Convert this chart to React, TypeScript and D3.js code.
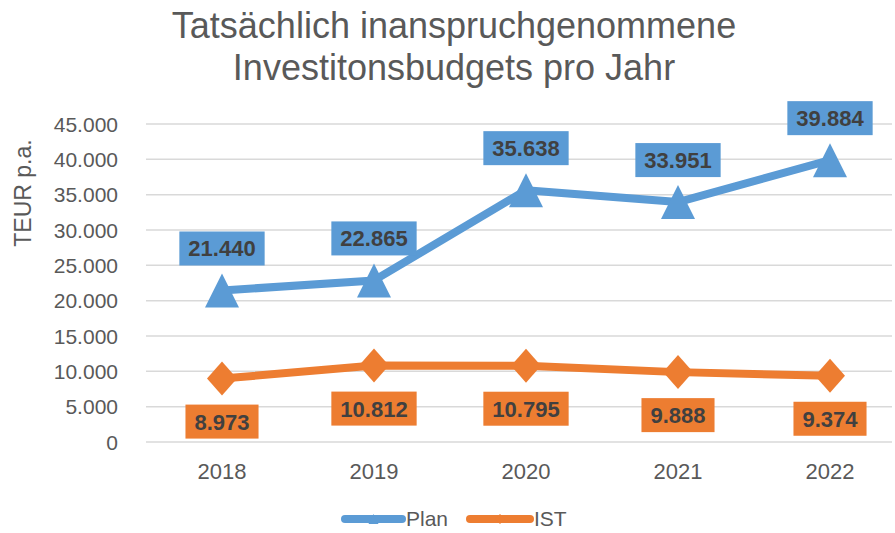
import React, { useEffect, useRef } from 'react';
import * as d3 from 'd3';

const years = ['2018', '2019', '2020', '2021', '2022'];
const planValues = [21440, 22865, 35638, 33951, 39884];
const istValues = [8973, 10812, 10795, 9888, 9374];
const yTicks = [0, 5000, 10000, 15000, 20000, 25000, 30000, 35000, 40000, 45000];
const titleLines = ['Tatsächlich inanspruchgenommene', 'Investitonsbudgets pro Jahr'];

const BLUE = '#5b9bd5';
const ORANGE = '#ed7d31';
const FONT = '"Liberation Sans", Arial, sans-serif';

const fmt = (v: number) => d3.format(',')(v).replace(/,/g, '.');

const App: React.FC = () => {
    const ref = useRef<SVGSVGElement | null>(null);

    useEffect(() => {
        if (!ref.current) return;
        const svg = d3.select(ref.current);
        svg.selectAll('*').remove();
        const width = 895;
        const height = 533;
        svg.attr('width', width).attr('height', height);

        const x = d3.scaleBand().domain(years).range([146, 906]);
        const cx = (d: string) => (x(d) as number) + x.bandwidth() / 2;
        const y = d3.scaleLinear().domain([0, 45000]).range([442, 124]);

        // title
        svg.append('g')
            .selectAll('text')
            .data(titleLines)
            .enter().append('text')
            .attr('x', 454)
            .attr('y', (_, i) => 38 + i * 42)
            .attr('text-anchor', 'middle')
            .attr('font-size', 36)
            .attr('fill', '#595959')
            .text(d => d);

        // grid
        svg.append('g')
            .selectAll('line')
            .data(yTicks)
            .enter().append('line')
            .attr('x1', 146)
            .attr('x2', 892)
            .attr('y1', d => y(d))
            .attr('y2', d => y(d))
            .attr('stroke', '#d9d9d9')
            .attr('stroke-width', 1.5);

        // y ticks
        svg.append('g')
            .selectAll('text')
            .data(yTicks)
            .enter().append('text')
            .attr('x', 118)
            .attr('y', d => y(d) + 7.5)
            .attr('text-anchor', 'end')
            .attr('font-size', 21)
            .attr('fill', '#595959')
            .text(d => fmt(d));

        svg.append('text')
            .attr('transform', 'translate(31,193) rotate(-90)')
            .attr('text-anchor', 'middle')
            .attr('font-size', 23)
            .attr('fill', '#595959')
            .text('TEUR p.a.');

        // x labels
        svg.append('g')
            .selectAll('text')
            .data(years)
            .enter().append('text')
            .attr('x', d => cx(d))
            .attr('y', 479)
            .attr('text-anchor', 'middle')
            .attr('font-size', 22)
            .attr('fill', '#595959')
            .text(d => d);

        const line = d3.line<number>()
            .x((_, i) => cx(years[i]))
            .y(d => y(d));

        const triangle = (s: number) => `M0,${-s}L${s},${s}L${-s},${s}Z`;
        const diamond = (w: number, h: number) => `M0,${-h}L${w},0L0,${h}L${-w},0Z`;

        const series = [
            { values: planValues, color: BLUE, marker: triangle(17), above: true },
            { values: istValues, color: ORANGE, marker: diamond(15, 17), above: false },
        ];

        series.forEach(s => {
            svg.append('path')
                .attr('d', line(s.values) as string)
                .attr('fill', 'none')
                .attr('stroke', s.color)
                .attr('stroke-width', 8)
                .attr('stroke-linejoin', 'round')
                .attr('stroke-linecap', 'round');

            svg.append('g')
                .selectAll('path')
                .data(s.values)
                .enter().append('path')
                .attr('transform', (d, i) => `translate(${cx(years[i])},${y(d)})`)
                .attr('d', s.marker)
                .attr('fill', s.color);
        });

        // data labels
        series.forEach(s => {
            const g = svg.append('g')
                .selectAll('g')
                .data(s.values)
                .enter().append('g')
                .attr('transform', (d, i) => `translate(${cx(years[i])},${y(d) + (s.above ? -42 : 43)})`);
            const rects = g.append('rect').attr('fill', s.color);
            const texts = g.append('text')
                .attr('text-anchor', 'middle')
                .attr('y', 8)
                .attr('font-size', 22)
                .attr('font-weight', 'bold')
                .attr('fill', '#404040')
                .text(d => fmt(d));
            texts.each(function (_, i) {
                const w = (this as SVGTextElement).getComputedTextLength() + 18;
                d3.select(rects.nodes()[i])
                    .attr('x', -w / 2)
                    .attr('y', -17)
                    .attr('width', w)
                    .attr('height', 34);
            });
        });

        // legend
        const legend = [
            { name: 'Plan', color: BLUE, x1: 345, x2: 402, marker: triangle(5) },
            { name: 'IST', color: ORANGE, x1: 470, x2: 530, marker: diamond(5, 5) },
        ];
        const lg = svg.append('g')
            .selectAll('g')
            .data(legend)
            .enter().append('g');
        lg.append('line')
            .attr('x1', d => d.x1)
            .attr('x2', d => d.x2)
            .attr('y1', 519)
            .attr('y2', 519)
            .attr('stroke', d => d.color)
            .attr('stroke-width', 8)
            .attr('stroke-linecap', 'round');
        lg.append('path')
            .attr('transform', d => `translate(${(d.x1 + d.x2) / 2},519)`)
            .attr('d', d => d.marker)
            .attr('fill', d => d.color);
        lg.append('text')
            .attr('x', d => d.x2 + 4)
            .attr('y', 526)
            .attr('font-size', 21)
            .attr('fill', '#595959')
            .text(d => d.name);
    }, []);

    return (
        <svg
            ref={ref}
            style={{ position: 'absolute', left: 0, top: 0, fontFamily: FONT, background: '#fff' }}
        />
    );
};

export default App;
